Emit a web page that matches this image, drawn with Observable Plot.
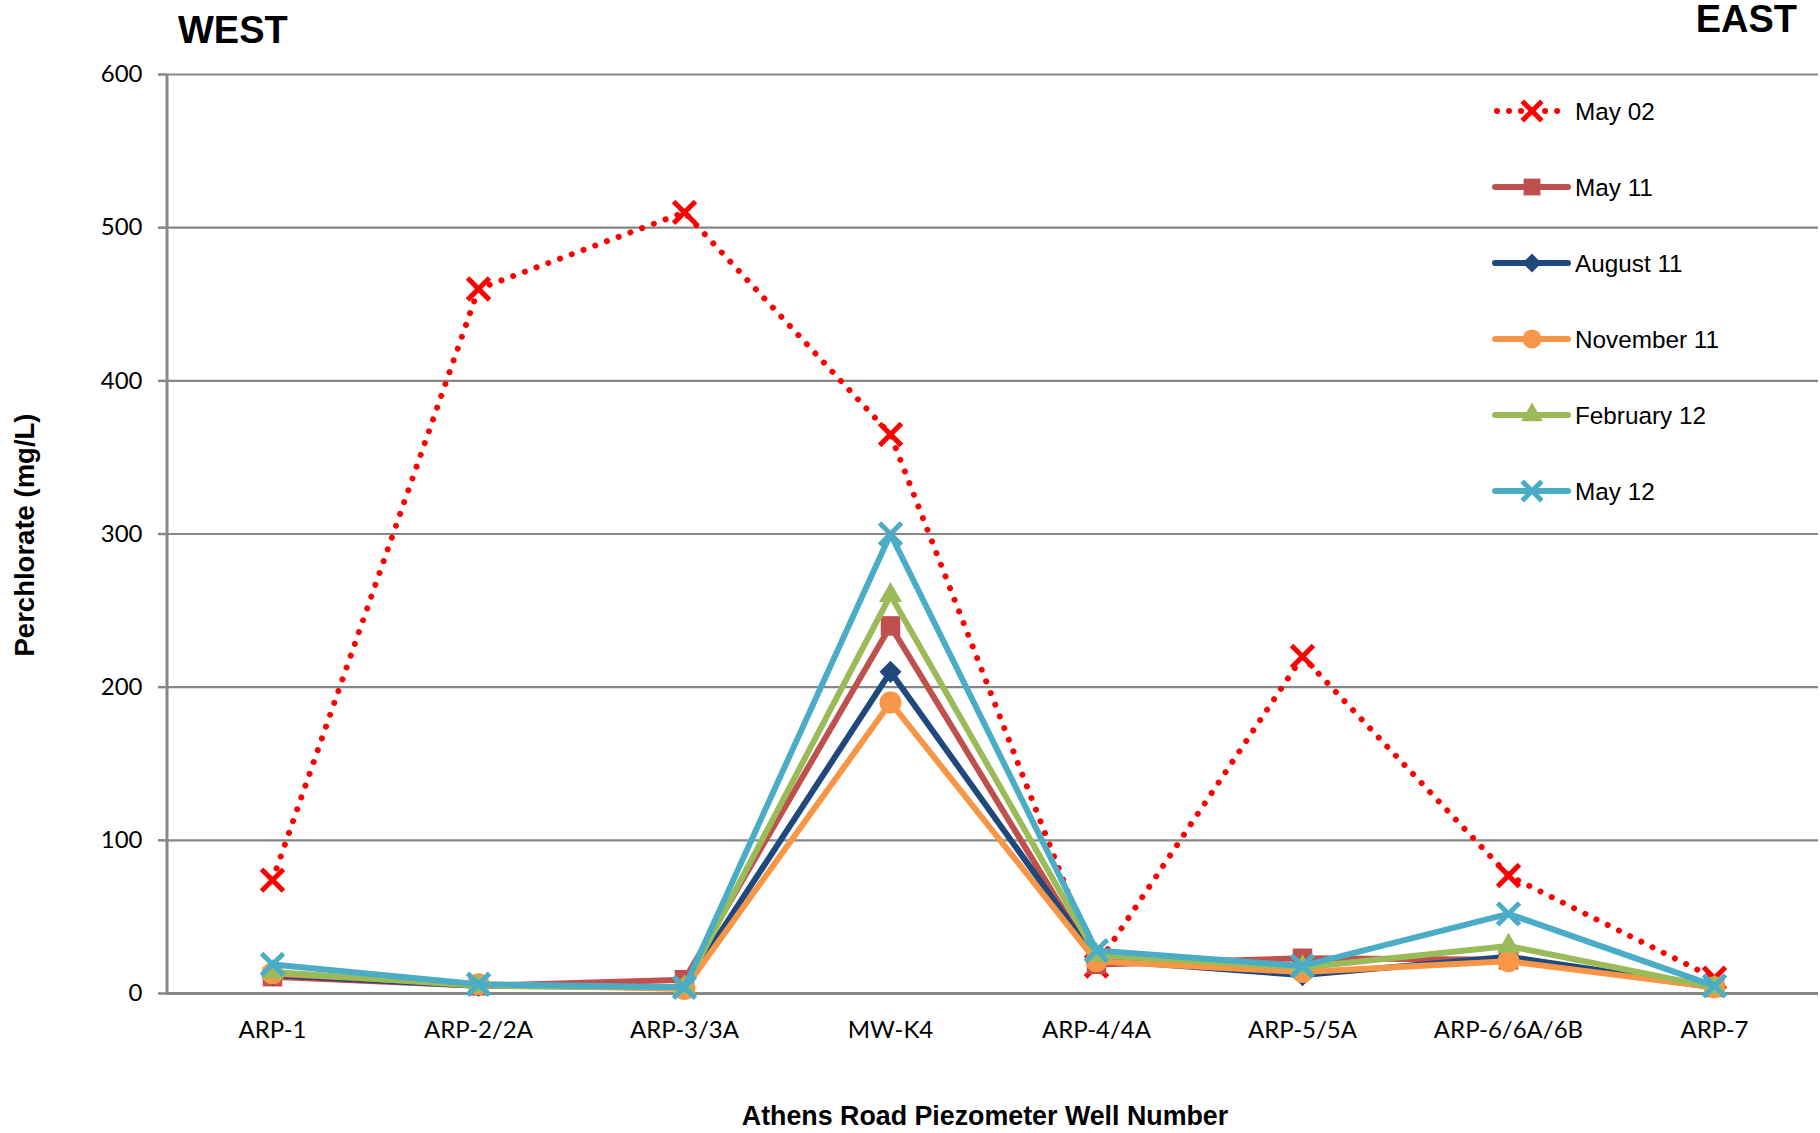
<!DOCTYPE html>
<html>
<head>
<meta charset="utf-8">
<script src="https://cdn.jsdelivr.net/npm/d3@7"></script>
<script src="https://cdn.jsdelivr.net/npm/@observablehq/plot@0.6"></script>
<style>
  html, body { margin: 0; padding: 0; background: #fff; }
  #chart { position: relative; width: 1820px; height: 1133px; }
</style>
</head>
<body>
<div id="chart"></div>
<script>
// ---- data ----
const wells = ["ARP-1", "ARP-2/2A", "ARP-3/3A", "MW-K4", "ARP-4/4A", "ARP-5/5A", "ARP-6/6A/6B", "ARP-7"];
const seriesNames = ["May 02", "May 11", "August 11", "November 11", "February 12", "May 12"];
const may02 = [74, 460, 510, 365, 18, 220, 77, 10];
const may11 = [11, 5, 9, 240, 19, 23, 22, 4];
const aug11 = [12, 5, 4, 210, 22, 12, 24, 4];
const nov11 = [13, 6, 3, 190, 21, 14, 21, 4];
const feb12 = [14, 5, 4, 260, 25, 17, 31, 4];
const may12 = [19, 6, 4, 300, 28, 18, 52, 5];
const yTicks = [0, 100, 200, 300, 400, 500, 600];

// ---- styles ----
const styles = [
  {color: "#FF0000", dotted: true, symbol: "times", r: 10, rotate: 0, legendR: 9},
  {color: "#C0504D", dotted: false, symbol: "square", r: 11, rotate: 0, legendR: 9.5},
  {color: "#1F497D", dotted: false, symbol: "square", r: 8.8, rotate: 45, legendR: 7.5},
  {color: "#F79646", dotted: false, symbol: "circle", r: 11, rotate: 0, legendR: 9.5},
  {color: "#9BBB59", dotted: false, symbol: "triangle", r: 8.5, rotate: 0, legendR: 8},
  {color: "#4BACC6", dotted: false, symbol: "times", r: 10, rotate: 0, legendR: 9}
];
const allValues = [may02, may11, aug11, nov11, feb12, may12];

const W = 1820, H = 1133;
const mL = 167, mR = 2, mT = 74, mB = 140;
const gridColor = "#878787";
const lineW = 6;

const marks = [
  Plot.gridY(yTicks, {stroke: gridColor, strokeOpacity: 1, strokeWidth: 2.2}),
  Plot.axisY(yTicks, {tickSize: 9, tickPadding: 16, stroke: gridColor, strokeWidth: 2.5, fontSize: 24, label: null}),
  Plot.axisX({tickSize: 0, tickPadding: 27, fontSize: 24, label: null}),
  Plot.ruleY([0], {stroke: gridColor, strokeWidth: 3})
];

seriesNames.forEach((name, k) => {
  const st = styles[k];
  const rows = wells.map((w, i) => ({well: w, value: allValues[k][i]}));
  marks.push(Plot.line(rows, {
    x: "well", y: "value", stroke: st.color, strokeWidth: lineW,
    strokeLinejoin: "round", strokeLinecap: "round",
    strokeDasharray: st.dotted ? "0.01 12.5" : null
  }));
  if (st.symbol === "times") {
    marks.push(Plot.dot(rows, {x: "well", y: "value", symbol: "times", r: st.r, stroke: st.color, strokeWidth: 5, fill: "none"}));
  } else {
    marks.push(Plot.dot(rows, {x: "well", y: "value", symbol: st.symbol, r: st.r, rotate: st.rotate, fill: st.color, stroke: "none"}));
  }
});

const chart = Plot.plot({
  width: W, height: H,
  marginLeft: mL, marginRight: mR, marginTop: mT, marginBottom: mB,
  x: {type: "point", domain: wells, padding: 0.5, label: null},
  y: {domain: [0, 600], label: null},
  style: {fontFamily: "Lato, 'Open Sans', sans-serif", fontSize: "24px", color: "#000", background: "white", overflow: "visible"},
  marks
});
document.getElementById("chart").appendChild(chart);

const svg = d3.select(chart);
const y = chart.scale("y");

// y-axis line
svg.append("line")
  .attr("x1", mL).attr("x2", mL)
  .attr("y1", y.apply(600)).attr("y2", y.apply(0))
  .attr("stroke", gridColor).attr("stroke-width", 3);

// titles
const bold = "'Liberation Sans', Arial, sans-serif";
svg.append("text").text("WEST")
  .attr("x", 178).attr("y", 43).attr("text-anchor", "start")
  .attr("font-family", bold).attr("font-weight", "bold").attr("font-size", 38).attr("fill", "#000");
svg.append("text").text("EAST")
  .attr("x", 1797).attr("y", 32).attr("text-anchor", "end")
  .attr("font-family", bold).attr("font-weight", "bold").attr("font-size", 38).attr("fill", "#000");
svg.append("text").text("Perchlorate (mg/L)")
  .attr("transform", "translate(34,535) rotate(-90)").attr("text-anchor", "middle")
  .attr("font-family", bold).attr("font-weight", "bold").attr("font-size", 27.5).attr("fill", "#000");
svg.append("text").text("Athens Road Piezometer Well Number")
  .attr("x", 985).attr("y", 1125).attr("text-anchor", "middle")
  .attr("font-family", bold).attr("font-weight", "bold").attr("font-size", 26.8).attr("fill", "#000");

// legend
const symMap = {times: d3.symbolTimes, square: d3.symbolSquare, circle: d3.symbolCircle, triangle: d3.symbolTriangle};
const lg = svg.append("g").attr("font-family", bold).attr("font-size", 24.3).attr("text-anchor", "start");
seriesNames.forEach((name, k) => {
  const st = styles[k];
  const cy = 111 + 76 * k;
  const g = lg.append("g").attr("transform", `translate(0,${cy})`);
  g.append("line")
    .attr("x1", st.dotted ? 1497 : 1495).attr("x2", st.dotted ? 1560 : 1568)
    .attr("y1", 0).attr("y2", 0)
    .attr("stroke", st.color).attr("stroke-width", lineW).attr("stroke-linecap", "round")
    .attr("stroke-dasharray", st.dotted ? "0.01 12" : null);
  const p = d3.symbol().type(symMap[st.symbol]).size(Math.PI * st.legendR * st.legendR)();
  const path = g.append("path").attr("d", p)
    .attr("transform", `translate(1532,0) rotate(${st.rotate})`);
  if (st.symbol === "times") path.attr("fill", "none").attr("stroke", st.color).attr("stroke-width", 5);
  else path.attr("fill", st.color);
  g.append("text").text(name).attr("x", 1575).attr("dy", "0.35em").attr("text-anchor", "start").attr("fill", "#000");
});
</script>
</body>
</html>
